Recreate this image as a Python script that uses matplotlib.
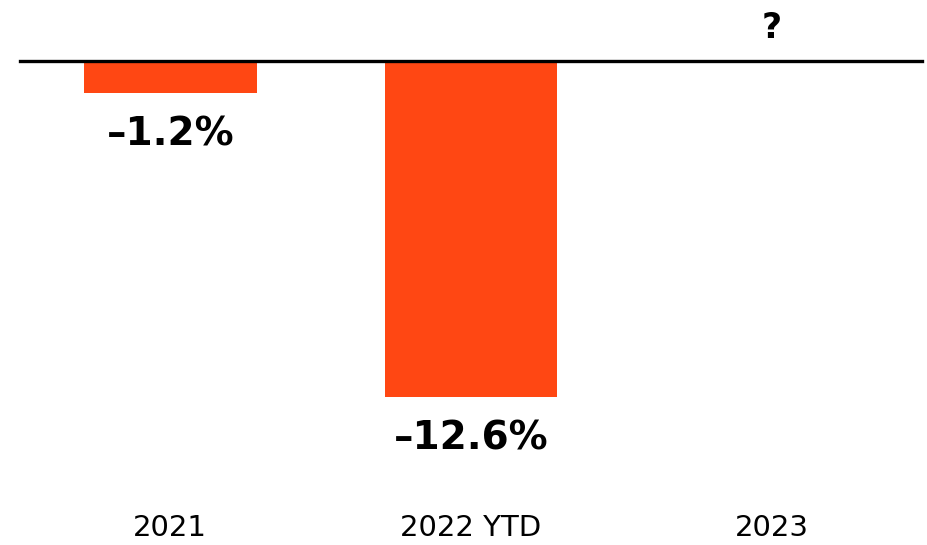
import matplotlib
matplotlib.use("Agg")
from matplotlib import pyplot as plt

categories = ["2021", "2022 YTD", "2023"]
values = [-1.2, -12.6, None]
value_labels = ["\u20131.2%", "\u201312.6%", "?"]

W, H = 927, 545
fig = plt.figure(figsize=(W / 100, H / 100), dpi=100)

# axes: zero line at pixel y=61, bottom of figure = bottom of axes
px_per_unit = 26.65
top_px = 61
ax = fig.add_axes([20 / W, 0, 902 / W, (H - top_px) / H])
ax.set_xlim(-0.5, 2.5)
ax.set_ylim(-(H - top_px) / px_per_unit, 0)
ax.axis("off")

for i, v in enumerate(values):
    if v is not None:
        ax.bar(i, v, width=0.575, color="#FF4713", zorder=2)

ax.axhline(0, color="black", lw=2.4, zorder=3, clip_on=False)

for i, (v, lab) in enumerate(zip(values, value_labels)):
    if v is None:
        ax.text(i, 1.25, lab, ha="center", va="center", fontsize=25,
                fontweight="bold", clip_on=False)
    else:
        ax.text(i, v - 1.55, lab, ha="center", va="center", fontsize=28,
                fontweight="bold")

for i, c in enumerate(categories):
    ax.text(i, -17.52, c, ha="center", va="center", fontsize=21)

fig.savefig("out.png", dpi=100)
